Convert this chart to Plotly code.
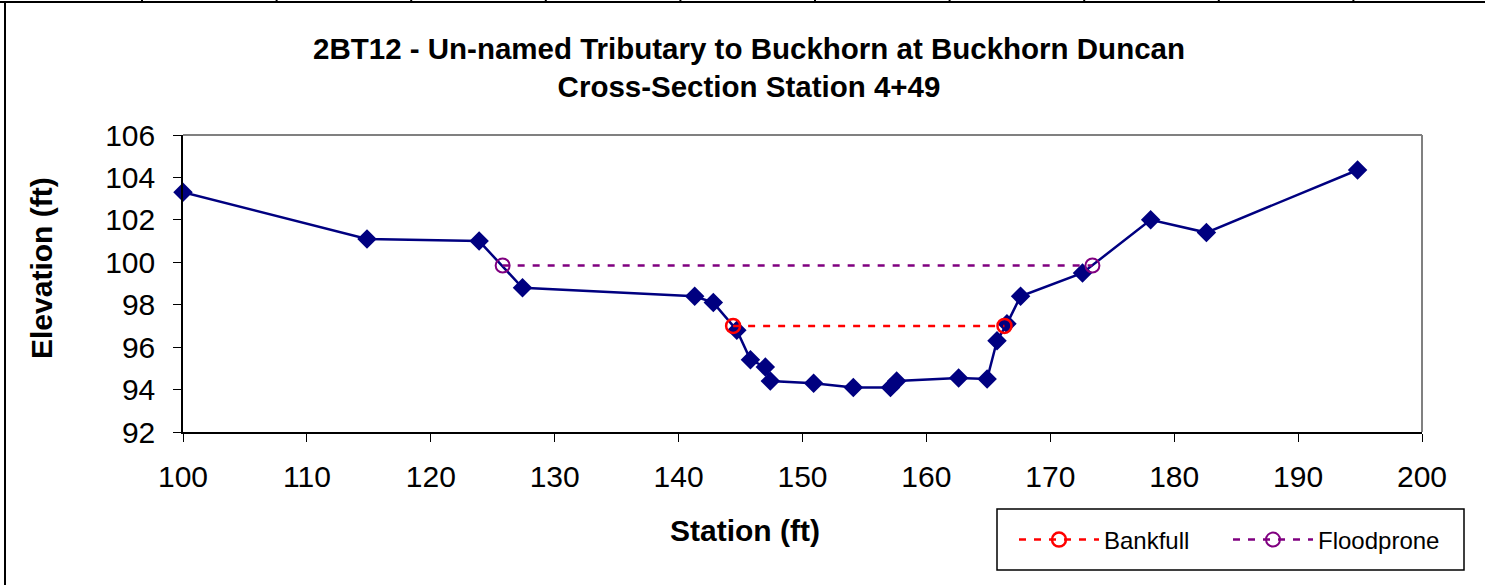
import plotly.graph_objects as go

# Cross-section survey
station = [100.0, 114.85, 123.9, 127.4, 141.3, 142.8, 144.7, 145.8, 147.0, 147.4,
           150.9, 154.1, 157.1, 157.6, 162.6, 164.9, 165.7, 166.5, 167.6, 172.6,
           178.1, 182.6, 194.8]
elevation = [103.3, 101.1, 101.0, 98.8, 98.4, 98.1, 96.8, 95.4, 95.06, 94.4,
             94.3, 94.1, 94.1, 94.4, 94.55, 94.5, 96.3, 97.1, 98.4, 99.5,
             102.0, 101.4, 104.35]

bankfull_x = [144.4, 166.3]
bankfull_y = [97.0, 97.0]
flood_x = [125.8, 173.4]
flood_y = [99.85, 99.85]

x_ticks = [100, 110, 120, 130, 140, 150, 160, 170, 180, 190, 200]
y_ticks = [92, 94, 96, 98, 100, 102, 104, 106]

W, H = 1485, 585
L, R, T, B = 183, 1422, 135, 432

def px(x):
    return (x - L) / (R - L)

def py(y):
    return (B - y) / (B - T)

fig = go.Figure()
fig.add_trace(go.Scatter(
    x=station, y=elevation, mode="lines+markers", showlegend=False, cliponaxis=False,
    line=dict(color="#000080", width=2.5),
    marker=dict(symbol="diamond", size=15, color="#000080"),
))
fig.add_trace(go.Scatter(
    x=bankfull_x, y=bankfull_y, mode="lines+markers", name="Bankfull",
    line=dict(color="#FF0000", width=2.5, dash="7px,8px"),
    marker=dict(symbol="circle-open", size=14, color="#FF0000", line=dict(width=2.5)),
))
fig.add_trace(go.Scatter(
    x=flood_x, y=flood_y, mode="lines+markers", name="Floodprone",
    line=dict(color="#800080", width=2.5, dash="7px,8px"),
    marker=dict(symbol="circle-open", size=14, color="#800080", line=dict(width=2)),
))

shapes = [
    # plot area gray top/right border
    dict(type="line", xref="paper", yref="paper", x0=0, x1=1, y0=1, y1=1,
         line=dict(color="#808080", width=2)),
    dict(type="line", xref="paper", yref="paper", x0=1, x1=1, y0=0, y1=1,
         line=dict(color="#808080", width=2)),
    # outer frame (left and top)
    dict(type="line", xref="paper", yref="paper", x0=px(5), x1=px(5), y0=py(2), y1=py(585),
         line=dict(color="#000000", width=2)),
    dict(type="line", xref="paper", yref="paper", x0=px(0), x1=px(1485), y0=py(2), y1=py(2),
         line=dict(color="#000000", width=2)),
    # legend box
    dict(type="rect", xref="paper", yref="paper", x0=px(997), x1=px(1464), y0=py(509), y1=py(570),
         line=dict(color="#000000", width=1.5), fillcolor="rgba(0,0,0,0)"),
]
for k in range(10):
    xp = 142 + 134.6 * k
    shapes.append(dict(type="line", xref="paper", yref="paper", x0=px(xp), x1=px(xp),
                       y0=py(0), y1=py(3), line=dict(color="#000000", width=2)))

annotations = [
    dict(text="<b>Station (ft)</b>", xref="paper", yref="paper", x=px(745), y=py(530),
         xanchor="center", yanchor="middle", showarrow=False, font=dict(size=30)),
    dict(text="<b>Elevation (ft)</b>", xref="paper", yref="paper", x=px(41), y=py(268),
         xanchor="center", yanchor="middle", showarrow=False, textangle=-90,
         font=dict(size=30)),
]

fig.update_layout(
    width=W, height=H,
    margin=dict(l=L, r=W - R, t=T, b=H - B, pad=0),
    paper_bgcolor="white", plot_bgcolor="white",
    font=dict(family="Liberation Sans, Arial, sans-serif", color="black"),
    title=dict(
        text="<b>2BT12 - Un-named Tributary to Buckhorn at Buckhorn Duncan<br>Cross-Section Station 4+49</b>",
        x=749 / W, xanchor="center", y=1 - 59 / H, yanchor="middle",
        font=dict(size=29.5, color="black"),
    ),
    xaxis=dict(
        range=[100, 200], tickvals=x_ticks, ticks="outside", ticklen=8, tickwidth=1,
        tickcolor="black", showline=True, linecolor="black", linewidth=1.5,
        showgrid=False, zeroline=False, tickfont=dict(size=30), ticklabelstandoff=9,
    ),
    yaxis=dict(
        range=[92, 106], tickvals=y_ticks, ticks="outside", ticklen=8, tickwidth=1,
        tickcolor="black", showline=True, linecolor="black", linewidth=1.5,
        showgrid=False, zeroline=False, tickfont=dict(size=30), ticklabelstandoff=12,
    ),
    legend=dict(
        orientation="h", x=px(1014), xanchor="left", y=py(540), yanchor="middle",
        borderwidth=0, bgcolor="rgba(0,0,0,0)",
        font=dict(size=24), itemwidth=80, entrywidth=119,
    ),
    shapes=shapes,
    annotations=annotations,
)

fig.write_html("out.html", config={"displayModeBar": False},
               post_script="document.body.style.margin='0';")
